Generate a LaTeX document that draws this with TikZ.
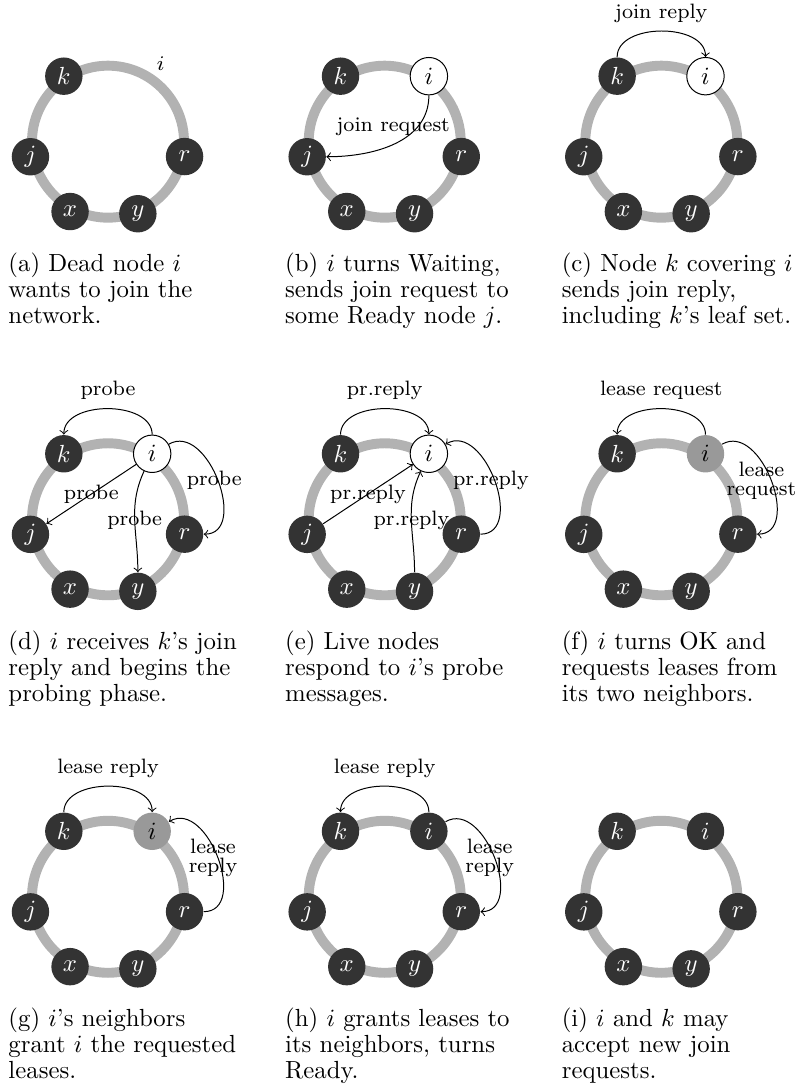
\RequirePackage{fix-cm}
\documentclass[tikz,border=0pt]{standalone}
\newcommand{\msgfont}{\fontsize{8.4}{7.6}\selectfont}
\newcommand{\capfont}{\fontsize{10}{10.5}\selectfont\hyphenpenalty=10000\exhyphenpenalty=10000}
\begin{document}
\begin{tikzpicture}[x=0.4036pt,y=0.4036pt,
		ring/.style={line width=4pt,black!30},
		peer/.style={circle,fill=black!80,text=white,minimum size=15.1pt,inner sep=0pt},
		fresh/.style={peer,fill=white,draw=black,text=black},
		leasing/.style={peer,fill=black!40,text=black},
		dead/.style={font=\msgfont,inner sep=0pt,xshift=3.4pt,yshift=5pt},
		msg/.style={->,every node/.style={font=\msgfont,align=center}},
		subcap/.style={anchor=base west,text width=96pt,align=flush left,inner sep=0pt,font=\capfont}]
	\useasboundingbox (0,0) rectangle (802,1090);
	\foreach \p/\cx/\cy/\ist/\txt in {
			a/108/948.3/dead/{(a) Dead node $i$ wants to join the network.},
			b/384.7/948.3/fresh/{(b) $i$ turns Waiting, sends join request to some Ready node $j$.},
			c/661.3/948.3/fresh/{(c) Node $k$ covering $i$ sends join reply, including $k$'s leaf set.},
			d/108/570.7/fresh/{(d) $i$ receives $k$'s join reply and begins the probing phase.},
			e/384.7/570.7/fresh/{(e) Live nodes respond to $i$'s probe messages.},
			f/661.3/570.7/leasing/{(f) $i$ turns OK and requests leases from its two neighbors.},
			g/108/193.2/leasing/{(g) $i$'s neighbors grant $i$ the requested leases.},
			h/384.7/193.2/peer/{(h) $i$ grants leases to its neighbors, turns Ready.},
			i/661.3/193.2/peer/{(i) $i$ and $k$ may accept new join requests.}}{
		\begin{scope}[shift={(\cx,\cy)}]
			\draw[ring] (0,0) circle (76);
			\node[peer] (\p-k) at (124:79) {$k$};
			\node[\ist] (\p-i) at (56:79) {$i$};
			\node[peer] (\p-j) at (191:79) {$j$};
			\node[peer] (\p-r) at (-11:78) {$r$};
			\node[peer] (\p-x) at (241.5:79.5) {$x$};
			\node[peer] (\p-y) at (292.5:78) {$y$};
			\node[subcap] (\p-cap) at (-100,-130) {\txt};
		\end{scope}
	}
	% (b)
	\draw[msg] (b-i) to[out=-90,in=0] node[pos=0.3,xshift=-9pt,yshift=1pt] (b-m) {join request} (b-j);
	% (c)
	\draw[msg] (c-k) to[out=90,in=90] node[above] (c-m) {join reply} (c-i);
	% (d)
	\draw[msg] (d-i) to[out=90,in=90] node[above] (d-m1) {probe} (d-k);
	\draw[msg] (d-i) -- node (d-m2) {probe} (d-j);
	\draw[msg] (d-i) to[out=245,in=90] node (d-m3) {probe} (d-y);
	\draw[msg] (d-i) to[out=30,in=0,looseness=1.2] node[xshift=-1.5pt] (d-m4) {probe} (d-r);
	% (e)
	\draw[msg] (e-k) to[out=90,in=90] node[above] (e-m1) {pr.reply} (e-i);
	\draw[msg] (e-j) -- node (e-m2) {pr.reply} (e-i);
	\draw[msg] (e-y) to[out=90,in=245] node (e-m3) {pr.reply} (e-i);
	\draw[msg] (e-r) to[out=0,in=30,looseness=1.2] node[xshift=-1.5pt] (e-m4) {pr.reply} (e-i);
	% (f)
	\draw[msg] (f-i) to[out=90,in=90] node[above] (f-m1) {lease request} (f-k);
	\draw[msg] (f-i) to[out=30,in=0,looseness=1.2] node[xshift=-4pt] (f-m2) {lease\\request} (f-r);
	% (g)
	\draw[msg] (g-k) to[out=90,in=90] node[above] (g-m1) {lease reply} (g-i);
	\draw[msg] (g-r) to[out=0,in=30,looseness=1.2] node[xshift=-2pt] (g-m2) {lease\\reply} (g-i);
	% (h)
	\draw[msg] (h-i) to[out=90,in=90] node[above] (h-m1) {lease reply} (h-k);
	\draw[msg] (h-i) to[out=30,in=0,looseness=1.2] node[xshift=-2pt] (h-m2) {lease\\reply} (h-r);
\end{tikzpicture}
\end{document}
